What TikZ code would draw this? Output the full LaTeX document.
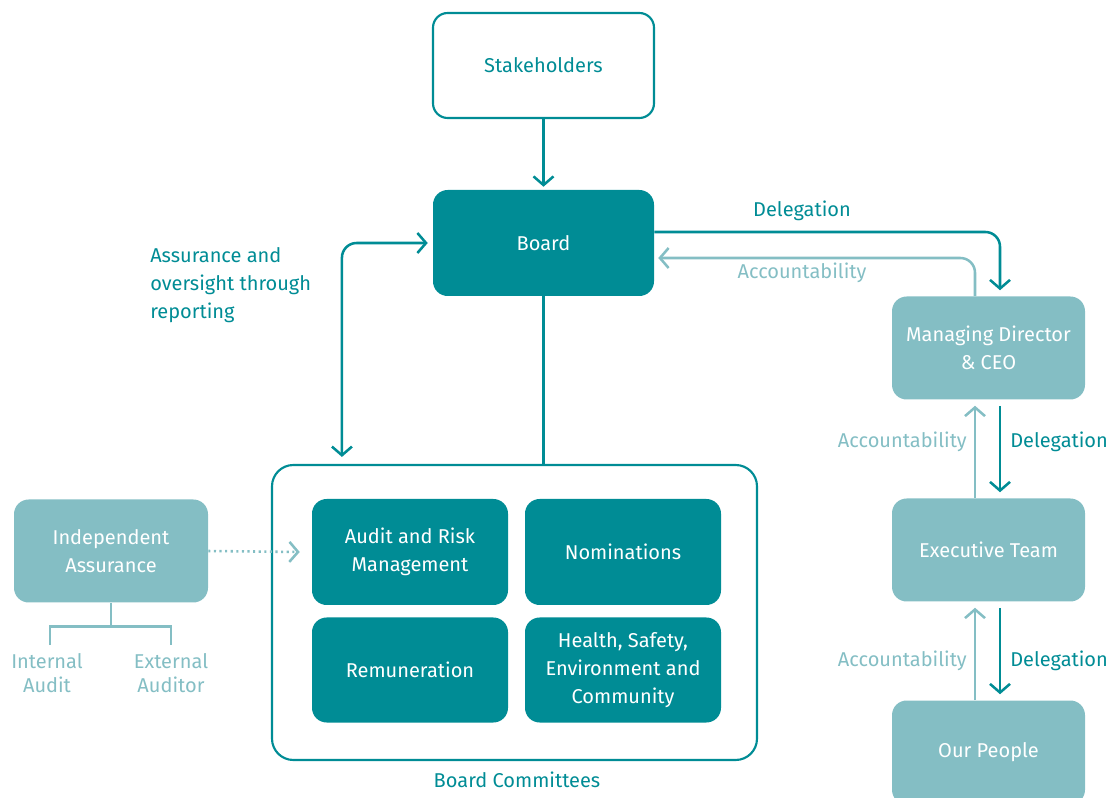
\documentclass[tikz,border=0pt]{standalone}
\usepackage{fontspec}
\setmainfont{Fira Sans}
\usetikzlibrary{arrows.meta,calc}
\definecolor{dk}{RGB}{0,140,149}
\definecolor{lt}{RGB}{132,190,196}
\begin{document}
\begin{tikzpicture}[x=0.75pt,y=-0.75pt,
  txt/.style={font=\fontsize{15}{21}\selectfont, align=center, inner sep=0pt},
  box/.style={txt, rounded corners=11pt, text=white},
  dkbox/.style={box, fill=dk},
  ltbox/.style={box, fill=lt},
  wbox/.style={box, draw=dk, line width=1.6pt, fill=white, text=dk},
  dkline/.style={draw=dk, line width=1.9pt},
  ltline/.style={draw=lt, line width=1.9pt},
  tip/.style={-{Straight Barb[length=6.5pt,width=15pt]}},
  tips/.style={{Straight Barb[length=6.5pt,width=15pt]}-{Straight Barb[length=6.5pt,width=15pt]}},
  dklab/.style={txt, text=dk},
  ltlab/.style={txt, text=lt}]
\useasboundingbox (0,0) rectangle (1115,798);
% nodes
\node[wbox, minimum width=165.75pt, minimum height=78.75pt] (stk) at (543.5,65.5) {\raisebox{-1.5pt}{Stakeholders}};
\node[dkbox, minimum width=165.75pt, minimum height=79.5pt] (board) at (543.5,243) {Board};
\node[wbox, rounded corners=16pt, minimum width=363.75pt, minimum height=221.25pt] (comm) at (514.5,612.5) {};
\node[dkbox, minimum width=147pt, minimum height=79.5pt] (audit) at (410,552) {Audit and Risk\\Management};
\node[dkbox, minimum width=147pt, minimum height=79.5pt] (nom) at (623,552) {Nominations};
\node[dkbox, minimum width=147pt, minimum height=78.75pt] (rem) at (410,670) {Remuneration};
\node[dkbox, minimum width=147pt, minimum height=78.75pt] (hsec) at (623,670) {Health, Safety,\\Environment and\\Community};
\node[dklab] (commlab) at (517,780) {Board Committees};
\node[ltbox, minimum width=144.75pt, minimum height=77.25pt] (md) at (988.5,348) {Managing Director\\\& CEO};
\node[ltbox, minimum width=144.75pt, minimum height=77.25pt] (exec) at (988.5,550) {Executive Team};
\node[ltbox, minimum width=144.75pt, minimum height=78pt] (ppl) at (988.5,752.5) {Our People};
\node[ltbox, minimum width=145.5pt, minimum height=77.25pt] (ia) at (111,551) {Independent\\Assurance};
\node[ltlab, font=\fontsize{15}{18}\selectfont] (intl) at (47,673) {Internal\\Audit};
\node[ltlab, font=\fontsize{15}{18}\selectfont] (extl) at (171,673) {External\\Auditor};
\node[dklab, anchor=west, align=left] (aor) at (150,285) {Assurance and\\oversight through\\reporting};
\node[dklab] (del1) at (802,211) {Delegation};
\node[ltlab] (acc1) at (802,273) {Accountability};
\node[ltlab, anchor=east] (acc2) at (967,442) {Accountability};
\node[dklab, anchor=west] (del2) at (1010,442) {Delegation};
\node[ltlab, anchor=east] (acc3) at (967,661) {Accountability};
\node[dklab, anchor=west] (del3) at (1010,661) {Delegation};
% connectors
\draw[dkline, tip] (stk.south) -- ($(board.north)+(0,-3)$);
\draw[dkline] (board.south) -- (board.south |- comm.north);
\draw[dkline, tips, rounded corners=11pt] ($(comm.north west)+(71,-7)$) |- ($(board.west)+(-5,0)$);
\draw[dkline, tip, rounded corners=11pt] ($(board.east)+(0,-11)$) -| ($(md.north)+(11.5,-6)$);
\draw[ltline, tip, rounded corners=11pt] ($(md.north)+(-13.5,0)$) |- ($(board.east)+(4,15)$);
\draw[ltline, tip] ($(exec.north)+(-13.5,0)$) -- ($(md.south)+(-13.5,6)$);
\draw[dkline, tip] ($(md.south)+(11.5,6)$) -- ($(exec.north)+(11.5,-6)$);
\draw[ltline, tip] ($(ppl.north)+(-13.5,0)$) -- ($(exec.south)+(-13.5,6)$);
\draw[dkline, tip] ($(exec.south)+(11.5,6)$) -- ($(ppl.north)+(11.5,-6)$);
\draw[ltline, dash pattern=on 1.6pt off 2.6pt, tip] (ia.east) -- ($(audit.west)+(-12,0)$);
\coordinate (tj) at ($(ia.south)+(0,24)$);
\draw[ltline] (ia.south) -- (tj);
\draw[ltline] ($(intl.north)+(3,-8)$) |- (tj) -| ($(extl.north)+(0,-8)$);
\end{tikzpicture}
\end{document}
